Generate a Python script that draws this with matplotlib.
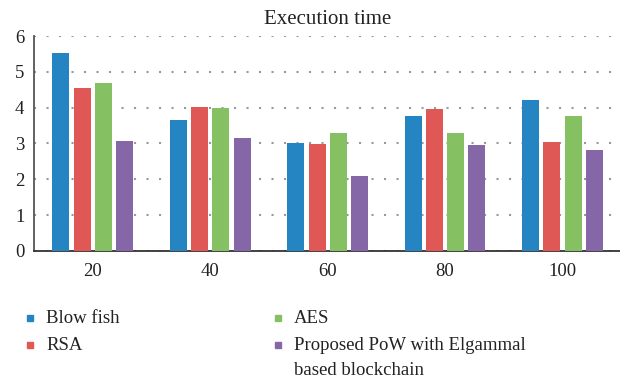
import numpy as np
import matplotlib.pyplot as plt
from matplotlib.lines import Line2D

plt.rcParams['font.family'] = ['Liberation Serif', 'DejaVu Serif']

# execution time per data size
sizes = ['20', '40', '60', '80', '100']
blow_fish = [5.53, 3.66, 3.01, 3.77, 4.21]
rsa = [4.55, 4.02, 2.99, 3.96, 3.04]
aes = [4.69, 3.99, 3.29, 3.29, 3.77]
proposed = [3.07, 3.15, 2.09, 2.96, 2.82]

series = [
    ('Blow fish', blow_fish, '#2585c2'),
    ('RSA', rsa, '#e05856'),
    ('AES', aes, '#85c062'),
    ('Proposed PoW with Elgammal\nbased blockchain', proposed, '#8567a8'),
]

W, H = 620, 379
fig = plt.figure(figsize=(W / 100, H / 100), dpi=100)
ax = fig.add_axes([0.055, 0.338, 0.947, 0.567])

x = np.arange(len(sizes))
step = 0.181
width = 0.145
for i, (name, vals, color) in enumerate(series):
    ax.bar(x + (i - 1.5) * step, vals, width, color=color, zorder=3)

ax.set_xlim(-0.5, 4.5)
ax.set_ylim(0, 6)
ax.set_yticks(range(7))
ax.set_xticks(x)
ax.set_xticklabels(sizes)
ax.tick_params(axis='both', length=0, labelsize=13.5, colors='#222222')
ax.tick_params(axis='y', pad=7)
ax.tick_params(axis='x', pad=9)
ax.grid(axis='y', color='#999999', linestyle=(0, (1, 5)), linewidth=1.5, zorder=0)

for side in ['top', 'right']:
    ax.spines[side].set_visible(False)
ax.spines['left'].set_color('#555555')
ax.spines['left'].set_linewidth(1.3)
ax.spines['bottom'].set_color('#333333')
ax.spines['bottom'].set_linewidth(1.3)

ax.set_title('Execution time', fontsize=15, color='#222222', pad=9)

# legend laid out by hand: two columns, marker beside the first text line
col_x = [30, 278]
row_y = [318, 345]
for i, (name, _, color) in enumerate(series):
    mx = col_x[i // 2]
    my = row_y[i % 2]
    fig.add_artist(Line2D([mx / W], [1 - my / H], marker='s', markersize=5,
                          color=color, linestyle='none',
                          transform=fig.transFigure))
    fig.text((mx + 16) / W, 1 - (my - 8) / H, name, fontsize=13.5,
             color='#222222', va='top', ha='left', linespacing=1.6)

fig.savefig('out.png', dpi=100)
